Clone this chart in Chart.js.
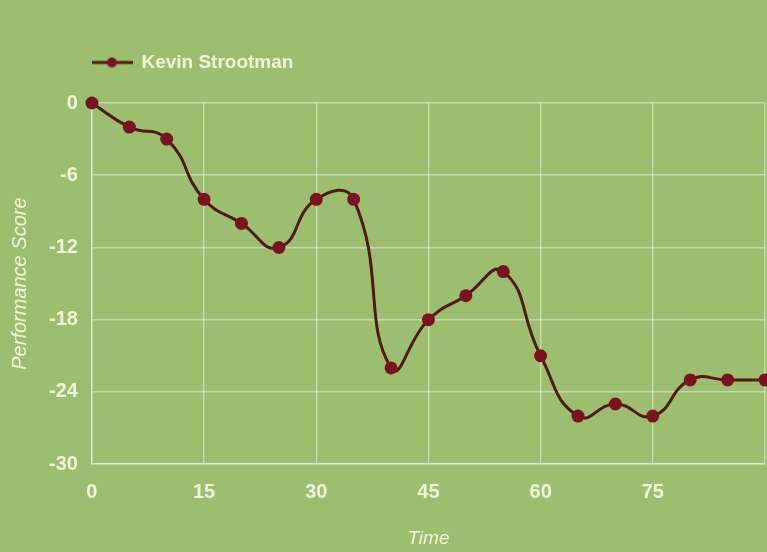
<!DOCTYPE html>
<html>
<head>
<meta charset="utf-8">
<script src="https://cdn.jsdelivr.net/npm/chart.js@4.4.1/dist/chart.umd.min.js"></script>
<style>
  html, body { margin: 0; padding: 0; background: #9cbf6f; overflow: hidden; }
  #wrap { width: 767px; height: 552px; overflow: hidden; }
</style>
</head>
<body>
<div id="wrap"><canvas id="c" width="781" height="552"></canvas></div>
<script>
const seriesName = 'Kevin Strootman';
const timeValues = [0, 5, 10, 15, 20, 25, 30, 35, 40, 45, 50, 55, 60, 65, 70, 75, 80, 85, 90];
const scoreValues = [0, -2, -3, -8, -10, -12, -8, -8, -22, -18, -16, -14, -21, -26, -25, -26, -23, -23, -23];
const xTickStep = 15;
const yTickStep = 6;

const textColor = '#eff6da';
const lineColor = '#521812';
const pointColor = '#7a1222';
const gridColor = 'rgba(255,255,255,0.42)';
const fontFamily = "'Liberation Sans', Arial, sans-serif";

// legend symbol: short line with a dot
const sym = document.createElement('canvas');
sym.width = 42; sym.height = 12;
(function () {
  const g = sym.getContext('2d');
  g.strokeStyle = lineColor; g.lineWidth = 3;
  g.beginPath(); g.moveTo(0, 6); g.lineTo(42, 6); g.stroke();
  g.fillStyle = pointColor;
  g.beginPath(); g.arc(21, 6, 5, 0, Math.PI * 2); g.fill();
})();

const points = timeValues.map((t, i) => ({ x: t, y: scoreValues[i] }));

const legendSpacer = {
  id: 'legendSpacer',
  beforeInit(chart) {
    const orig = chart.legend.fit;
    chart.legend.fit = function () {
      orig.call(this);
      this.height += 21;
    };
  }
};

new Chart(document.getElementById('c'), {
  type: 'line',
  data: {
    datasets: [{
      label: seriesName,
      data: points,
      borderColor: lineColor,
      backgroundColor: pointColor,
      pointBackgroundColor: pointColor,
      pointBorderColor: pointColor,
      pointRadius: 5,
      borderWidth: 3,
      tension: 0.5,
      clip: false
    }]
  },
  plugins: [legendSpacer],
  options: {
    responsive: false,
    animation: false,
    layout: { padding: { top: 53, right: 0, left: 8, bottom: 2 } },
    plugins: {
      tooltip: { enabled: false },
      legend: {
        position: 'top',
        align: 'start',
        fullSize: false,
        labels: {
          color: textColor,
          font: { family: fontFamily, size: 19, weight: 'bold' },
          usePointStyle: true,
          pointStyleWidth: 40,
          padding: 0,
          generateLabels: (chart) => [{
            text: seriesName,
            fillStyle: pointColor,
            strokeStyle: pointColor,
            pointStyle: sym,
            fontColor: textColor,
            datasetIndex: 0,
            hidden: false,
            lineWidth: 0
          }]
        }
      }
    },
    scales: {
      x: {
        type: 'linear',
        min: 0,
        max: 90,
        ticks: {
          stepSize: xTickStep,
          color: textColor,
          font: { family: fontFamily, size: 20, weight: 'bold' },
          padding: 16,
          callback: (v) => (v === 90 ? '' : String(v))
        },
        grid: { color: gridColor, lineWidth: 1.5, drawTicks: false },
        border: { display: true, color: gridColor, width: 1.5 },
        title: {
          display: true,
          text: 'Time',
          color: textColor,
          font: { family: fontFamily, size: 19, style: 'italic' },
          padding: { top: 7, bottom: 0 }
        }
      },
      y: {
        min: -30,
        max: 0,
        ticks: {
          stepSize: yTickStep,
          color: textColor,
          font: { family: fontFamily, size: 20, weight: 'bold' },
          padding: 14
        },
        grid: { color: gridColor, lineWidth: 1.5, drawTicks: false },
        border: { display: true, color: gridColor, width: 1.5 },
        title: {
          display: true,
          text: 'Performance Score',
          color: textColor,
          font: { family: fontFamily, size: 20, style: 'italic' },
          padding: { top: 0, bottom: 3 }
        }
      }
    }
  }
});
</script>
</body>
</html>
